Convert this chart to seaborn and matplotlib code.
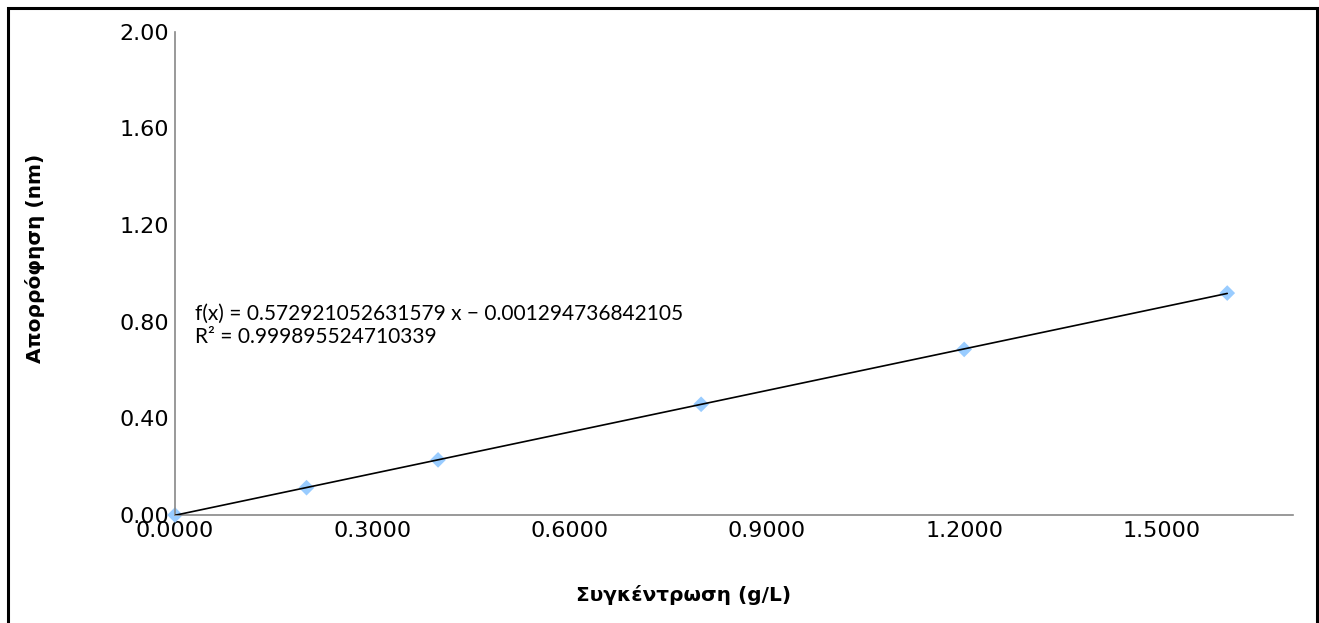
import matplotlib
matplotlib.use("Agg")
import matplotlib.pyplot as plt
import seaborn as sns
import pandas as pd
import numpy as np
from matplotlib.patches import Rectangle

# Data
concentration = [0.0, 0.2, 0.4, 0.8, 1.2, 1.6]
absorbance = [0.0, 0.113, 0.228, 0.458, 0.685, 0.918]
x_ticks = [0.0, 0.3, 0.6, 0.9, 1.2, 1.5]
y_ticks = [0.0, 0.4, 0.8, 1.2, 1.6, 2.0]
equation_text = "f(x) = 0.572921052631579 x − 0.001294736842105\nR² = 0.999895524710339"
x_label = "Συγκέντρωση (g/L)"
y_label = "Απορρόφηση (nm)"

df = pd.DataFrame({"x": concentration, "y": absorbance})

sns.set_theme(style="white")
plt.rcParams['font.family'] = ['DejaVu Sans']
plt.rcParams['text.color'] = 'black'
plt.rcParams['axes.labelcolor'] = 'black'

fig = plt.figure(figsize=(13.19, 6.23), dpi=100)
ax = fig.add_axes([175/1319, 1 - 515/623, (1293-175)/1319, (515-31.5)/623])

sns.regplot(data=df, x="x", y="y", ax=ax, scatter=False, ci=None, truncate=True,
            line_kws={"color": "black", "linewidth": 1.2, "zorder": 3})
sns.scatterplot(data=df, x="x", y="y", ax=ax, marker="D", s=64, color="#99CCFF",
                edgecolor="none", zorder=2, clip_on=False)

ax.set_xlim(0, 1.7)
ax.set_ylim(0, 2.0)
ax.set_xticks(x_ticks)
ax.set_yticks(y_ticks)
ax.set_xticklabels([f"{v:.4f}" for v in x_ticks], fontsize=16)
ax.set_yticklabels([f"{v:.2f}" for v in y_ticks], fontsize=16)
ax.tick_params(axis="x", length=0, pad=4, colors="black")
ax.tick_params(axis="y", length=0, pad=4, colors="black")

for s in ["top", "right"]:
    ax.spines[s].set_visible(False)
for s in ["left", "bottom"]:
    ax.spines[s].set_color("#888888")
    ax.spines[s].set_linewidth(1.2)

ax.set_xlabel(x_label, fontsize=14.5, fontweight="bold", family="DejaVu Sans", color="black")
ax.set_ylabel(y_label, fontsize=14.5, fontweight="bold", family="DejaVu Sans", color="black")
ax.xaxis.set_label_coords((684-175)/1118, (515-585)/484)
ax.yaxis.set_label_coords((45-175)/1118, (515-258)/484)

ax.text(0.030, 0.875, equation_text, fontsize=15, family="Lato", va="top",
        ha="left", linespacing=1.25, color="black", transform=ax.transData)

fig.patches.append(Rectangle((7.5/1319, -0.1), (1317-7.5)/1319, 1.1 - 7.5/623,
                             transform=fig.transFigure, fill=False,
                             edgecolor="black", linewidth=2.2))

fig.savefig("out.png", dpi=100)
